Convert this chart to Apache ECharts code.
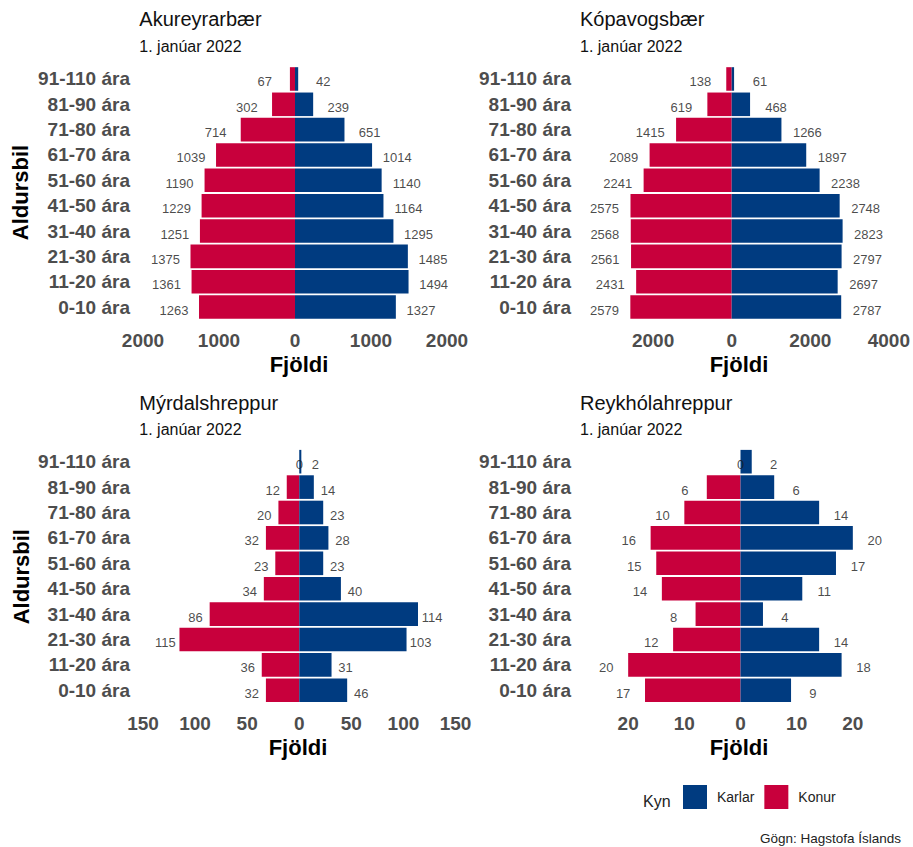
<!DOCTYPE html>
<html>
<head>
<meta charset="utf-8">
<script src="https://cdn.jsdelivr.net/npm/echarts@6/dist/echarts.min.js"></script>
<style>
html,body{margin:0;padding:0;background:#fff;}
#c{width:913px;height:847px;}
</style>
</head>
<body>
<div id="c"></div>
<script>
// Age groups, bottom to top
const categories = ['0-10 ára','11-20 ára','21-30 ára','31-40 ára','41-50 ára','51-60 ára','61-70 ára','71-80 ára','81-90 ára','91-110 ára'];

const panelTitles = ['Akureyrarbær','Kópavogsbær','Mýrdalshreppur','Reykhólahreppur'];
const subtitle = '1. janúar 2022';

const akureyriKarlar = [1327,1494,1485,1295,1164,1140,1014,651,239,42];
const akureyriKonur  = [1263,1361,1375,1251,1229,1190,1039,714,302,67];

const kopavogurKarlar = [2787,2697,2797,2823,2748,2238,1897,1266,468,61];
const kopavogurKonur  = [2579,2431,2561,2568,2575,2241,2089,1415,619,138];

const myrdalKarlar = [46,31,103,114,40,23,28,23,14,2];
const myrdalKonur  = [32,36,115,86,34,23,32,20,12,0];

const reykholaKarlar = [9,18,14,4,11,17,20,14,6,2];
const reykholaKonur  = [17,20,12,8,14,15,16,10,6,0];

// axis ticks per panel
const axisMin = [-2000,-4000,-150,-30];
const axisMax = [2000,4000,150,30];
const axisInterval = [1000,2000,50,10];

const karlarAll = [akureyriKarlar,kopavogurKarlar,myrdalKarlar,reykholaKarlar];
const konurAll  = [akureyriKonur,kopavogurKonur,myrdalKonur,reykholaKonur];

// ---- layout / styling (not data) ----
const BLUE = '#003B80', RED = '#C8003C';
const FONT = '"Liberation Sans", Arial, Helvetica, sans-serif';
const grids = [
  {left:143,   top:66.3, width:304,   height:253.4},
  {left:574.5, top:66.3, width:320.6, height:253.4},
  {left:143,   top:449,  width:312.5, height:254},
  {left:572,   top:449,  width:337,   height:254}
];
const yLabelMargin = [13,3.5,13,1];
const labelNudge = [330,660,13.5,3.9];
const hideMin = [false,true,false,true];
const hideMax = [false,false,false,true];

const xAxes = [], yAxes = [], series = [];
for (let p = 0; p < 4; p++) {
  xAxes.push({
    type:'value', gridIndex:p, min:axisMin[p], max:axisMax[p], interval:axisInterval[p],
    axisLine:{show:false}, axisTick:{show:false}, splitLine:{show:false},
    axisLabel:{
      margin:11, color:'#4D4D4D', fontWeight:'bold', fontSize:19, fontFamily:FONT,
      showMinLabel: !hideMin[p], showMaxLabel: !hideMax[p],
      formatter: v => String(Math.abs(v))
    }
  });
  yAxes.push({
    type:'category', gridIndex:p, data:categories,
    axisLine:{show:false}, axisTick:{show:false}, splitLine:{show:false},
    axisLabel:{margin:yLabelMargin[p], color:'#4D4D4D', fontWeight:'bold', fontSize:19, fontFamily:FONT, padding:[5,0,0,0]}
  });
  series.push({
    name:'Konur', type:'bar', xAxisIndex:p, yAxisIndex:p, stack:'s'+p,
    data: konurAll[p].map(v => -v), itemStyle:{color:RED}, barCategoryGap:'7%', silent:true
  });
  series.push({
    name:'Karlar', type:'bar', xAxisIndex:p, yAxisIndex:p, stack:'s'+p,
    data: karlarAll[p], itemStyle:{color:BLUE}, barCategoryGap:'7%', silent:true
  });
  const lblStyle = {show:true, position:'inside', formatter:'{b}', color:'#1A1A1A', fontSize:13, fontFamily:FONT, offset:[0,3]};
  series.push({
    name:'KonurLbl', type:'scatter', xAxisIndex:p, yAxisIndex:p, symbolSize:0, silent:true, z:5,
    data: konurAll[p].map((v,i) => ({name:String(v), value:[-v - Math.sign(v)*labelNudge[p], i]})),
    label: lblStyle
  });
  series.push({
    name:'KarlarLbl', type:'scatter', xAxisIndex:p, yAxisIndex:p, symbolSize:0, silent:true, z:5,
    data: karlarAll[p].map((v,i) => ({name:String(v), value:[v + Math.sign(v)*labelNudge[p], i]})),
    label: lblStyle
  });
}

const titlePos = [[139.3,19.2],[580,19.2],[139.3,402.5],[580,402.5]];
const subPos = [[139.3,46.3],[580,46.3],[139.3,429.7],[580,429.7]];
const fjoldiPos = [[299,364],[739,364],[298,747],[739,747]];
const aldursPos = [[20.5,192.5],[21.3,576.7]];

const graphics = [];
for (let p = 0; p < 4; p++) {
  graphics.push({type:'text', style:{text:panelTitles[p], x:titlePos[p][0], y:titlePos[p][1], fill:'#111', font:'20px '+FONT, align:'left', verticalAlign:'middle'}});
  graphics.push({type:'text', style:{text:subtitle, x:subPos[p][0], y:subPos[p][1], fill:'#111', font:'16px '+FONT, align:'left', verticalAlign:'middle'}});
  graphics.push({type:'text', style:{text:'Fjöldi', x:fjoldiPos[p][0], y:fjoldiPos[p][1], fill:'#000', font:'bold 22px '+FONT, align:'center', verticalAlign:'middle'}});
}
aldursPos.forEach(pos => {
  graphics.push({type:'text', x:pos[0], y:pos[1], rotation:Math.PI/2, style:{text:'Aldursbil', x:0, y:0, fill:'#000', font:'bold 22px '+FONT, align:'center', verticalAlign:'middle'}});
});
graphics.push({type:'text', style:{text:'Kyn', x:643, y:801, fill:'#222', font:'16px '+FONT, align:'left', verticalAlign:'middle'}});
graphics.push({type:'text', style:{text:'Gögn: Hagstofa Íslands', x:901, y:838, fill:'#222', font:'13.5px '+FONT, align:'right', verticalAlign:'middle'}});

const chart = echarts.init(document.getElementById('c'), null, {renderer:'svg'});
chart.setOption({
  animation:false,
  backgroundColor:'#fff',
  grid: grids,
  xAxis: xAxes,
  yAxis: yAxes,
  series: series,
  legend: {
    data:['Karlar','Konur'], left:683, top:785, padding:0, itemWidth:24, itemHeight:24, itemGap:10, icon:'rect',
    selectedMode:false,
    textStyle:{fontSize:14, color:'#222', fontFamily:FONT, padding:[0,0,0,5]}
  },
  graphic: graphics
});
</script>
</body>
</html>
